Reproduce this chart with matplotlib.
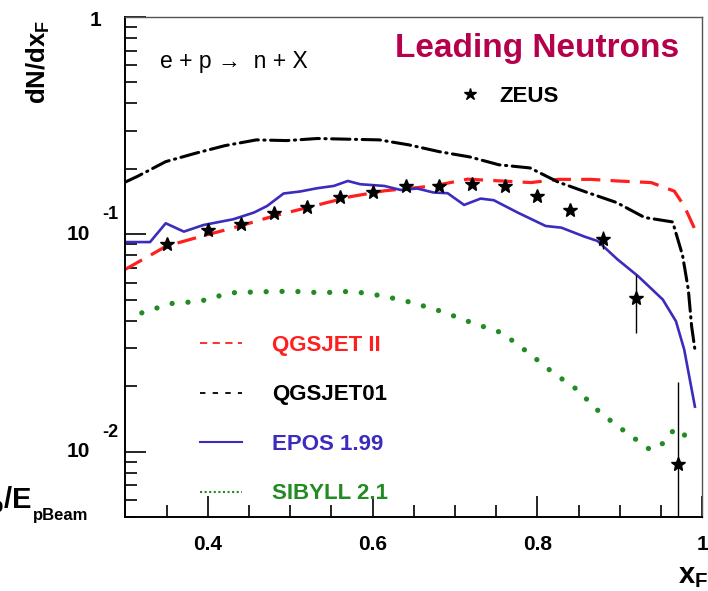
import numpy as np
import matplotlib
matplotlib.use("Agg")
import matplotlib.pyplot as plt
from matplotlib.lines import Line2D
from matplotlib.ticker import MultipleLocator, LogLocator, NullFormatter
from matplotlib.transforms import blended_transform_factory, offset_copy

plt.rcParams['font.family'] = ['Liberation Sans', 'DejaVu Sans']
plt.rcParams['mathtext.fontset'] = 'custom'
plt.rcParams['mathtext.rm'] = 'Liberation Sans'
plt.rcParams['mathtext.it'] = 'Liberation Sans:italic'
plt.rcParams['mathtext.bf'] = 'Liberation Sans:bold'

# ---- data ----
qgsjet2_x = [0.300, 0.350, 0.391, 0.439, 0.480, 0.521, 0.573, 0.614, 0.674, 0.715,
             0.756, 0.792, 0.825, 0.865, 0.897, 0.938, 0.966, 0.978, 0.991]
qgsjet2_y = [0.069, 0.0883, 0.0976, 0.1092, 0.1214, 0.1328, 0.149, 0.1585, 0.167, 0.1794,
             0.176, 0.173, 0.179, 0.179, 0.176, 0.173, 0.158, 0.135, 0.1054]

qgsjet01_x = [0.300, 0.315, 0.349, 0.385, 0.421, 0.459, 0.496, 0.533, 0.570, 0.608, 0.644, 0.681,
              0.718, 0.753, 0.791, 0.825, 0.860, 0.896, 0.930, 0.964, 0.976, 0.983, 0.987, 0.991]
qgsjet01_y = [0.174, 0.185, 0.216, 0.236, 0.256, 0.272, 0.270, 0.276, 0.274, 0.272, 0.258, 0.240,
              0.227, 0.209, 0.202, 0.174, 0.156, 0.140, 0.1195, 0.114, 0.080, 0.0557, 0.0377, 0.0295]

epos_x = [0.300, 0.330, 0.349, 0.371, 0.395, 0.431, 0.456, 0.472, 0.492, 0.512, 0.533,
          0.553, 0.570, 0.585, 0.614, 0.634, 0.654, 0.674, 0.691, 0.711, 0.731, 0.747,
          0.776, 0.810, 0.829, 0.857, 0.873, 0.897, 0.922, 0.952, 0.968, 0.978, 0.991]
epos_y = [0.0921, 0.0921, 0.1124, 0.1029, 0.1104, 0.1173, 0.1259, 0.135, 0.1541, 0.1574, 0.163,
          0.167, 0.176, 0.170, 0.167, 0.160, 0.1625, 0.1557, 0.1546, 0.1365, 0.146, 0.1435,
          0.1259, 0.1092, 0.1073, 0.0976, 0.0931, 0.0767, 0.0642, 0.0501, 0.0398, 0.0295, 0.0161]

sibyll_x = [0.320, 0.355, 0.391, 0.427, 0.466, 0.502, 0.539, 0.575, 0.614, 0.649, 0.685, 0.721,
            0.757, 0.788, 0.818, 0.848, 0.876, 0.907, 0.937, 0.954, 0.966, 0.976, 0.986]
sibyll_y = [0.0435, 0.0480, 0.0492, 0.0538, 0.0544, 0.0547, 0.0538, 0.0547, 0.0519, 0.0484, 0.0440,
            0.0391, 0.0352, 0.0287, 0.0232, 0.0193, 0.0151, 0.0123, 0.01018, 0.0110, 0.0127,
            0.01237, 0.01055]

zeus_x = [0.35, 0.40, 0.44, 0.48, 0.52, 0.56, 0.60, 0.64, 0.68, 0.72, 0.76, 0.80, 0.84, 0.88, 0.92, 0.97]
zeus_y = [0.0899, 0.1047, 0.1120, 0.1250, 0.1342, 0.1486, 0.1567, 0.166, 0.166, 0.170, 0.166,
          0.1502, 0.1295, 0.0955, 0.0510, 0.00877]
zeus_err_lo = [0.003] * 13 + [0.010, 0.016, 0.0085]
zeus_err_hi = [0.003] * 13 + [0.008, 0.014, 0.0122]

models = ["QGSJET II", "QGSJET01", "EPOS 1.99", "SIBYLL 2.1"]
RED, BLACK, BLUE, GREEN = "#ff1f1f", "#000000", "#3b2cbd", "#238b23"

fig = plt.figure(figsize=(7.08, 5.91), dpi=100)
ax = fig.add_axes([0.177, 0.1252, 0.815, 0.846])

ax.plot(qgsjet2_x, qgsjet2_y, color=RED, lw=2.3, ls=(0, (6, 3.2)))
ax.plot(qgsjet01_x, qgsjet01_y, color=BLACK, lw=2.2, ls=(0, (6, 1.8, 0.4, 1.8)),
        dash_capstyle="round")
ax.plot(epos_x, epos_y, color=BLUE, lw=1.9)
ax.plot(sibyll_x, sibyll_y, color=GREEN, lw=3.8, ls=(0, (0.01, 3.0)), dash_capstyle="round")
ax.errorbar(zeus_x, zeus_y, yerr=[zeus_err_lo, zeus_err_hi], fmt="*", color="k",
            ms=10.5, elinewidth=1.0, capsize=0, zorder=5)

ax.set_yscale("log")
ax.set_xlim(0.3, 1.0)
ax.set_ylim(0.005, 1.0)

# ROOT-like frame: ticks inside on left/bottom only
for s in ("left", "bottom"):
    ax.spines[s].set_linewidth(1.4)
for s in ("top", "right"):
    ax.spines[s].set_linewidth(1.0)
    ax.spines[s].set_color("#555555")
ax.set_xticks([0.4, 0.6, 0.8, 1.0])
ax.set_xticklabels(["0.4", "0.6", "0.8", "1"], fontsize=15, fontweight="bold")
ax.xaxis.set_minor_locator(MultipleLocator(0.05))
ax.yaxis.set_major_locator(LogLocator(base=10, numticks=10))
ax.yaxis.set_minor_locator(LogLocator(base=10, subs=np.arange(2, 10), numticks=20))
ax.yaxis.set_major_formatter(NullFormatter())
ax.yaxis.set_minor_formatter(NullFormatter())
ax.tick_params(which="major", direction="in", length=15, width=1.2, top=False, right=False, pad=13)
ax.tick_params(which="minor", direction="in", length=8.5, width=1.2, top=False, right=False)

# y tick labels in ROOT style: "10" with raised exponent
ytr = blended_transform_factory(ax.transAxes, ax.transData)
ax.text(-0.051, 1.0, "1", transform=offset_copy(ytr, fig=fig, y=-2.5, units="points"),
        ha="center", va="center", fontsize=15, fontweight="bold", clip_on=False)
for val, exp in [(0.1, "-1"), (0.01, "-2")]:
    ax.text(-0.061, val, "10", transform=ytr, ha="right", va="center",
            fontsize=15, fontweight="bold", clip_on=False)
    ax.text(-0.040, val, exp, transform=offset_copy(ytr, fig=fig, y=14, units="points"),
            ha="left", va="center", fontsize=13, fontweight="bold", clip_on=False)

# legends
handles = [Line2D([], [], color=RED, lw=1.3, ls=(0, (4, 3))),
           Line2D([], [], color=BLACK, lw=1.3, ls=(0, (3, 4))),
           Line2D([], [], color=BLUE, lw=1.5),
           Line2D([], [], color=GREEN, lw=1.5, ls=(0, (1, 1.2)))]
leg = ax.legend(handles, models, loc="upper left", bbox_to_anchor=(0.1295, 0.364),
                frameon=False, borderpad=0, borderaxespad=0, handlelength=1.9,
                handletextpad=1.35, labelspacing=1.28,
                prop={"size": 16, "weight": "bold"}, labelcolor=[RED, BLACK, BLUE, GREEN])
ax.add_artist(leg)
ax.legend([Line2D([], [], ls="none", marker="*", color="k", ms=9)], ["ZEUS"],
          loc="upper left", bbox_to_anchor=(0.5775, 0.862), frameon=False, borderpad=0,
          borderaxespad=0, handlelength=1.0, handletextpad=0.83,
          prop={"size": 16, "weight": "bold"})

ax.text(0.060, 0.912, "e + p \u2192  n + X", transform=ax.transAxes, fontsize=16.5,
        ha="left", va="center")
ax.text(0.4674, 0.9206, "Leading Neutrons", transform=ax.transAxes, fontsize=24,
        fontweight="bold", color="#b5004c", ha="left", va="baseline")

fig.text(38 / 708, 1 - 20 / 591, r"$\mathbf{dN/dx_F}$", rotation=90, ha="center", va="top",
         fontsize=18.5)
fig.text(678 / 708, 8 / 591, r"$\mathbf{x_F}$", ha="left", va="baseline", fontsize=21)
# x-axis title, mostly cut off at the left edge as in the reference
fig.text(32 / 708, 83 / 591, r"$\mathbf{x_F = E_p/E}$", ha="right", va="baseline",
         fontsize=21)
fig.text(33 / 708, 71 / 591, "pBeam", ha="left", va="baseline", fontsize=12,
         fontweight="bold")

fig.savefig("out.png", dpi=100)
